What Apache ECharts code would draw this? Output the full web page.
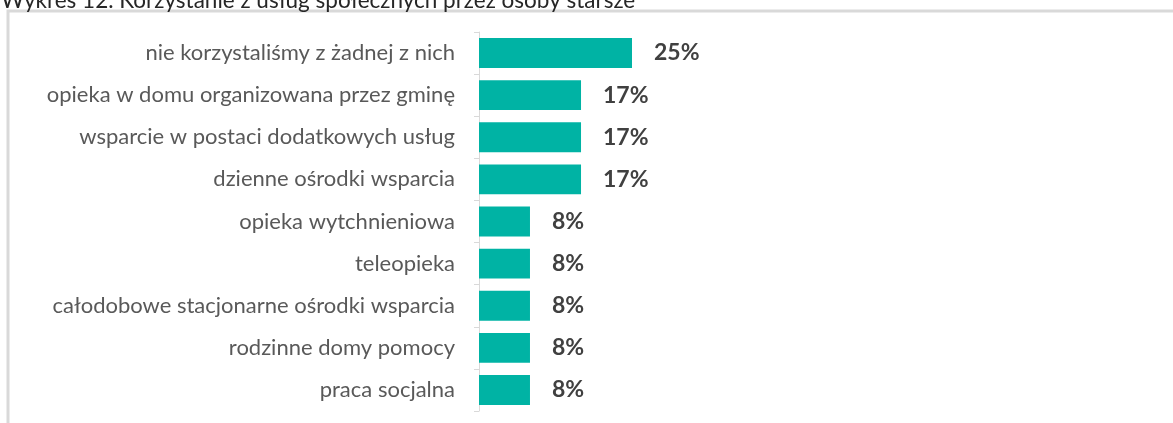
<!DOCTYPE html>
<html>
<head>
<meta charset="utf-8">
<script src="https://cdn.jsdelivr.net/npm/echarts@6/dist/echarts.min.js"></script>
<style>
  html, body { margin: 0; padding: 0; background: #fff; }
  #chart { width: 1173px; height: 423px; }
</style>
</head>
<body>
<div id="chart"></div>
<script>
// kategorie (od góry)
const categories = [
  'nie korzystaliśmy z żadnej z nich',
  'opieka w domu organizowana przez gminę',
  'wsparcie w postaci dodatkowych usług',
  'dzienne ośrodki wsparcia',
  'opieka wytchnieniowa',
  'teleopieka',
  'całodobowe stacjonarne ośrodki wsparcia',
  'rodzinne domy pomocy',
  'praca socjalna'
]
// udział odpowiedzi w %
const values = [25, 16.67, 16.67, 16.67, 8.33, 8.33, 8.33, 8.33, 8.33]

const titleText = 'Wykres 12. Korzystanie z usług społecznych przez osoby starsze'
const fontFamily = 'Lato, "Open Sans", sans-serif'

const chart = echarts.init(document.getElementById('chart'))

chart.setOption({
  animation: false,
  title: {
    text: titleText,
    left: -4,
    top: -16,
    textStyle: { fontFamily, fontSize: 22.5, fontWeight: 'normal', color: '#262626' }
  },
  graphic: [{
    type: 'rect',
    shape: { x: 8, y: 11, width: 1200, height: 500 },
    style: { fill: 'none', stroke: '#d9d9d9', lineWidth: 3 },
    silent: true,
    z: -1
  }],
  grid: { left: 479, top: 32, width: 612, bottom: 12 },
  xAxis: {
    type: 'value',
    min: 0,
    max: 100,
    show: false
  },
  yAxis: {
    type: 'category',
    inverse: true,
    data: categories,
    axisLine: { lineStyle: { color: '#d9d9d9', width: 1 } },
    axisTick: { show: true, length: 5, lineStyle: { color: '#d9d9d9' } },
    axisLabel: { margin: 24, fontFamily, fontSize: 22, color: '#595959' }
  },
  series: [{
    type: 'bar',
    data: values,
    barCategoryGap: '29%',
    itemStyle: { color: '#00b3a4' },
    label: {
      show: true,
      position: 'right',
      distance: 22,
      formatter: p => Math.round(p.value) + '%',
      fontFamily,
      fontSize: 23,
      fontWeight: 'bold',
      color: '#404040'
    }
  }]
})
</script>
</body>
</html>
